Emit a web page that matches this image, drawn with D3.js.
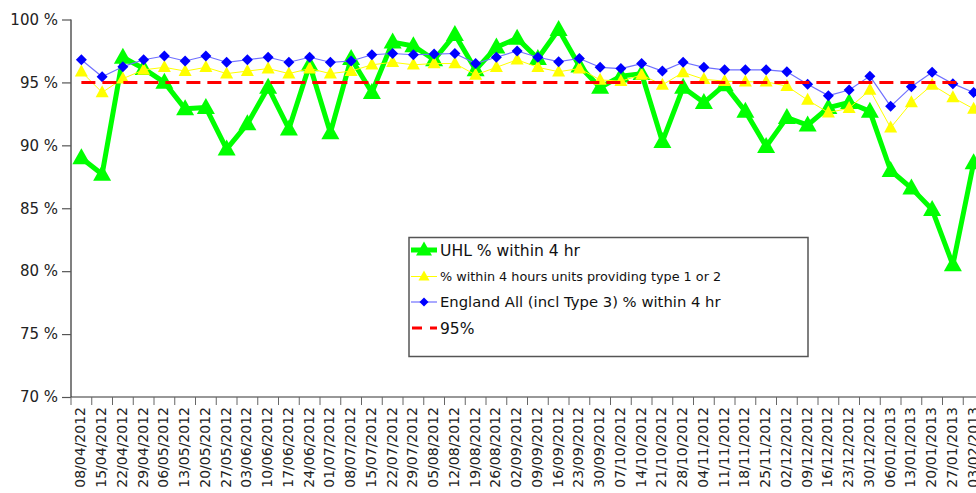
<!DOCTYPE html>
<html><head><meta charset="utf-8">
<script src="https://cdn.jsdelivr.net/npm/d3@7"></script>
<style>html,body{margin:0;padding:0;background:#fff;overflow:hidden}svg{display:block}</style>
</head><body>
<svg id="c" width="976" height="493"></svg>
<script>
const dates = ["08/04/2012","15/04/2012","22/04/2012","29/04/2012","06/05/2012","13/05/2012","20/05/2012","27/05/2012","03/06/2012","10/06/2012","17/06/2012","24/06/2012","01/07/2012","08/07/2012","15/07/2012","22/07/2012","29/07/2012","05/08/2012","12/08/2012","19/08/2012","26/08/2012","02/09/2012","09/09/2012","16/09/2012","23/09/2012","30/09/2012","07/10/2012","14/10/2012","21/10/2012","28/10/2012","04/11/2012","11/11/2012","18/11/2012","25/11/2012","02/12/2012","09/12/2012","16/12/2012","23/12/2012","30/12/2012","06/01/2013","13/01/2013","20/01/2013","27/01/2013","03/02/2013"];
const uhl = [89.0,87.7,97.0,96.1,95.0,92.9,93.0,89.7,91.7,94.6,91.3,96.4,91.0,96.9,94.2,98.2,97.9,96.8,98.8,96.0,97.8,98.5,96.9,99.2,96.3,94.6,95.5,95.7,90.3,94.6,93.4,94.8,92.7,89.9,92.2,91.6,93.0,93.4,92.7,88.0,86.6,84.9,80.5,88.6];
const type12 = [95.85,94.2,95.3,96.0,96.2,95.9,96.2,95.7,95.9,96.1,95.7,96.1,95.7,95.9,96.4,96.6,96.4,96.5,96.5,95.6,96.2,96.8,96.2,95.85,96.1,95.2,95.1,95.6,94.8,95.8,95.25,95.1,95.05,95.05,94.7,93.6,92.6,92.95,94.4,91.4,93.4,94.8,93.8,92.9];
const england = [96.8,95.45,96.25,96.8,97.1,96.7,97.1,96.6,96.8,97.0,96.6,97.0,96.6,96.7,97.2,97.3,97.2,97.25,97.3,96.5,97.0,97.5,97.0,96.65,96.9,96.2,96.1,96.5,95.9,96.6,96.2,96.0,96.0,96.0,95.85,94.85,93.95,94.4,95.5,93.1,94.65,95.8,94.9,94.2];
const target = 95;
const yTicks = [70,75,80,85,90,95,100];
const legendLabels = ["UHL % within 4 hr","% within 4 hours units providing type 1 or 2","England All (incl Type 3) % within 4 hr","95%"];

const svg = d3.select("#c");
const mLeft = 71, mTop = 19.5, mBottom = 397, bw = 20.75;
const x = d3.scaleBand().domain(dates).range([mLeft, mLeft + dates.length * bw]).paddingInner(0).paddingOuter(0);
const y = d3.scaleLinear().domain([70,100]).range([mBottom, mTop]);
const cx = d => x(d) + x.bandwidth()/2;
const font = "DejaVu Sans, Verdana, sans-serif";

// Y axis
const ya = svg.append("g").attr("transform",`translate(${mLeft},0)`)
  .call(d3.axisLeft(y).tickValues(yTicks).tickSize(9).tickPadding(4).tickFormat(d => d + " %"));
ya.select(".domain").attr("stroke","#808080").attr("stroke-width",2).attr("d",`M0,${mTop}V${mBottom}`);
ya.selectAll(".tick line").attr("stroke","#555").attr("stroke-width",1.2);
ya.selectAll(".tick text").attr("font-family",font).attr("font-size",15).attr("fill","#222");

// X axis
const xa = svg.append("g");
xa.append("line").attr("x1",mLeft).attr("x2",mLeft + dates.length*bw).attr("y1",mBottom).attr("y2",mBottom).attr("stroke","#333").attr("stroke-width",1.2);
xa.selectAll("line.t").data(dates.concat(["__end"])).join("line").attr("class","t")
  .attr("x1",d => d==="__end" ? x.range()[1] : x(d)).attr("x2",d => d==="__end" ? x.range()[1] : x(d))
  .attr("y1",mBottom).attr("y2",mBottom+8).attr("stroke","#666").attr("stroke-width",1);
xa.selectAll("text").data(dates).join("text")
  .attr("transform",d => `translate(${cx(d)-1},${mBottom+10}) rotate(-90)`)
  .attr("text-anchor","end").attr("dy","0.36em")
  .attr("font-family",font).attr("font-size",14).attr("fill","#222").text(d => d);

const tri = (w,h) => `M0,${-h*0.6}L${w/2},${h*0.4}L${-w/2},${h*0.4}Z`;
const dia = s => `M0,${-s/2}L${s/2},0L0,${s/2}L${-s/2},0Z`;

function series(vals, color, lw, markerPath, mColor, lineColor){
  const line = d3.line().x((v,i)=>cx(dates[i])).y(v=>y(v));
  svg.append("path").datum(vals).attr("d",line).attr("fill","none").attr("stroke",lineColor||color).attr("stroke-width",lw).attr("stroke-linejoin","round");
  svg.append("g").selectAll("path").data(vals).join("path")
    .attr("transform",(v,i)=>`translate(${cx(dates[i])},${y(v)})`)
    .attr("d",markerPath).attr("fill",mColor||color);
}
series(uhl,"#00ff00",5,tri(18,16));
series(type12,"#ffff00",1,tri(13,12));
series(england,"#0000ff",1.2,dia(11),"#0000ff","#7070ff");

// target line
svg.append("line").attr("x1",cx(dates[0])).attr("x2",cx(dates[dates.length-1])).attr("y1",y(target)).attr("y2",y(target))
  .attr("stroke","#ff0000").attr("stroke-width",3).attr("stroke-dasharray","14,7");

// Legend
const lg = svg.append("g");
lg.append("rect").attr("x",409).attr("y",237.5).attr("width",399).attr("height",119).attr("fill","#fff").attr("stroke","#555").attr("stroke-width",1.5);
const rows = [250,276.5,302,328];
const sizes = [15.6,12.8,14.8,15.5];
lg.append("line").attr("x1",411).attr("x2",437).attr("y1",rows[0]).attr("y2",rows[0]).attr("stroke","#00ff00").attr("stroke-width",5);
lg.append("path").attr("d",tri(16,14)).attr("transform",`translate(424,${rows[0]})`).attr("fill","#00ff00");
lg.append("line").attr("x1",411).attr("x2",437).attr("y1",rows[1]).attr("y2",rows[1]).attr("stroke","#ffff00").attr("stroke-width",1);
lg.append("path").attr("d",tri(11,10)).attr("transform",`translate(424,${rows[1]})`).attr("fill","#ffff00");
lg.append("line").attr("x1",411).attr("x2",437).attr("y1",rows[2]).attr("y2",rows[2]).attr("stroke","#7070ff").attr("stroke-width",1.2);
lg.append("path").attr("d",dia(9)).attr("transform",`translate(424,${rows[2]})`).attr("fill","#0000ff");
lg.append("line").attr("x1",412).attr("x2",437).attr("y1",rows[3]).attr("y2",rows[3]).attr("stroke","#ff0000").attr("stroke-width",3).attr("stroke-dasharray","10,8");
lg.selectAll("text").data(legendLabels).join("text")
  .attr("x",440).attr("y",(d,i)=>rows[i]).attr("dy","0.36em")
  .attr("font-family",font).attr("font-size",(d,i)=>sizes[i]).attr("fill","#111").text(d=>d);
</script>
</body></html>
